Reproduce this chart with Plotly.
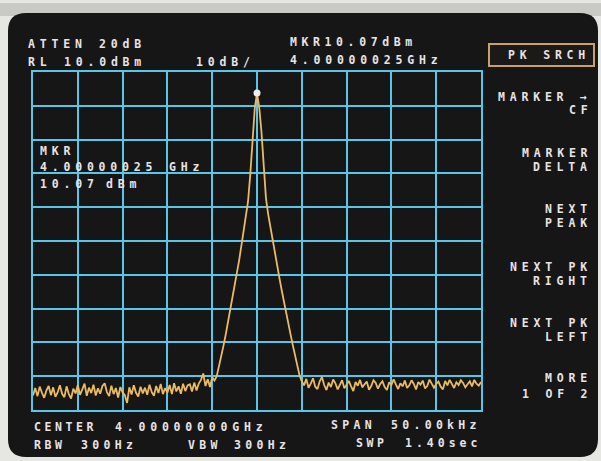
import numpy as np
import plotly.graph_objects as go

# Sweep: 4 GHz centre, 50 kHz span, 201 points (offsets in kHz)
center_ghz = 4.0
span_khz = 50.0

# Measured trace levels (dBm), left noise floor -> main lobe -> right noise floor
left_floor = [
    -79.4, -77.2, -79.6, -76.8, -78.6, -80.1, -77.9, -76.6, -79.3, -77.0,
    -79.8, -78.5, -76.4, -78.9, -79.9, -76.7, -79.0, -80.3, -77.4, -78.8,
    -76.3, -79.2, -77.6, -75.9, -79.5, -77.1, -78.7, -76.2, -79.4, -77.3,
    -78.9, -76.6, -75.8, -78.4, -79.6, -76.5, -79.0, -77.2, -80.0, -76.9,
    -78.5, -79.3, -81.6, -77.0, -79.1, -76.4, -78.6, -79.7, -76.8, -78.8,
    -77.1, -79.2, -76.2, -78.4, -79.5, -76.6, -78.7, -76.0, -79.0, -77.2,
    -78.6, -76.3, -79.0, -75.8, -78.2, -76.7, -78.9, -75.9, -78.1, -76.4,
    -76.1, -78.2, -75.6, -77.9, -75.9, -74.8, -72.9, -76.6, -74.6, -76.9,
    -74.0,
]
main_lobe = [
    -75.0, -73.8, -71.0, -68.2, -64.8, -61.5, -58.0, -54.6, -51.0, -47.3,
    -43.5, -39.5, -35.2, -31.0, -26.8, -22.0, -14.0, -3.0, 5.5,
    10.07,
    5.8, -1.5, -12.5, -21.0, -25.8, -29.8, -33.6, -37.4, -41.0, -44.6,
    -48.2, -51.8, -55.0, -58.2, -61.4, -64.6, -67.8, -70.8, -73.5,
]
right_floor = [
    -75.2,
    -76.4, -74.5, -77.1, -75.9, -74.3, -76.8, -77.5, -75.2, -73.9, -76.3,
    -77.8, -75.6, -76.9, -74.7, -75.8, -77.6, -76.2, -74.9, -77.3, -76.0,
    -75.1, -76.7, -78.1, -75.4, -76.5, -74.8, -77.0, -76.1, -75.3, -77.7,
    -76.6, -74.9, -75.7, -77.4, -76.0, -75.2, -76.9, -77.8, -75.5, -76.3,
    -74.6, -76.1, -77.5, -75.8, -76.7, -75.0, -77.2, -76.4, -74.9, -76.0,
    -77.6, -75.4, -76.2, -75.0, -77.3, -76.6, -74.7, -75.9, -77.1, -76.0,
    -75.3, -76.8, -77.6, -75.1, -76.4, -74.8, -76.0, -77.2, -75.5, -76.3,
    -74.9, -75.7, -77.0, -76.1, -75.2, -76.7, -74.8, -75.9, -76.5, -75.4,
]
level_dbm = left_floor + main_lobe + right_floor
freq_khz = np.linspace(-span_khz / 2, span_khz / 2, len(level_dbm))

marker_khz = 0.0
marker_dbm = 10.07

# Screen geometry (figure pixels)
W, H = 601, 461
L, R, T, B = 33, 481, 72, 410

SCREEN = "#161616"
GRID = "#58c6e8"
TRACE = "#ebba62"
TEXT = "#e8e3e5"
FRAME = "#c9a166"


def px_x(x):
    return (x - L) / (R - L)


def px_y(y):
    return (B - y) / (B - T)


def rounded_rect(x0, y0, x1, y1, r):
    pts = [
        ("M", [(x0 + r, y0)]),
        ("L", [(x1 - r, y0)]),
        ("Q", [(x1, y0), (x1, y0 + r)]),
        ("L", [(x1, y1 - r)]),
        ("Q", [(x1, y1), (x1 - r, y1)]),
        ("L", [(x0 + r, y1)]),
        ("Q", [(x0, y1), (x0, y1 - r)]),
        ("L", [(x0, y0 + r)]),
        ("Q", [(x0, y0), (x0 + r, y0)]),
    ]
    parts = []
    for cmd, ps in pts:
        parts.append(cmd + " " + " ".join(f"{px_x(a):.5f},{px_y(b):.5f}" for a, b in ps))
    return " ".join(parts) + " Z"


fig = go.Figure()
fig.add_trace(go.Scatter(
    x=freq_khz, y=level_dbm, mode="lines",
    line=dict(color=TRACE, width=1.8), hoverinfo="skip", showlegend=False,
))
fig.add_trace(go.Scatter(
    x=[marker_khz], y=[marker_dbm], mode="markers",
    marker=dict(color="#f3ecef", size=7), hoverinfo="skip", showlegend=False,
))

annotations = []


def label(text, x, y, anchor="left", spacing=4.8, size=11.5):
    annotations.append(dict(
        text=f'<span style="letter-spacing:{spacing}px">{text}</span>',
        x=px_x(x + (spacing if anchor == "right" else 0)), y=px_y(y),
        xref="paper", yref="paper", xanchor=anchor, yanchor="middle",
        showarrow=False, borderpad=0,
        font=dict(family="DejaVu Sans Mono", size=size, color=TEXT, weight=700),
    ))


# Header
label("ATTEN", 27, 44)
label("20dB", 98, 44)
label("RL", 27, 62)
label("10.0dBm", 63, 62)
label("10dB/", 195, 62)
label("MKR10.07dBm", 289, 42, spacing=4.6)
label("4.00000025GHz", 289, 60, spacing=4.8)

# Marker readout inside the graticule
label("MKR", 39, 151)
label("4.00000025", 39, 167)
label("GHz", 168, 167)
label("10.07", 39, 184)
label("dBm", 105, 184)

# Softkey menu
label("PK SRCH", 586, 55, anchor="right")
label("MARKER →", 588, 97, anchor="right")
label("CF", 588, 110, anchor="right")
label("MARKER", 588, 153, anchor="right")
label("DELTA", 588, 167, anchor="right")
label("NEXT", 588, 209, anchor="right")
label("PEAK", 588, 223, anchor="right")
label("NEXT PK", 588, 267, anchor="right")
label("RIGHT", 588, 281, anchor="right")
label("NEXT PK", 588, 323, anchor="right")
label("LEFT", 588, 337, anchor="right")
label("MORE", 588, 378, anchor="right")
label("1 OF 2", 588, 394, anchor="right")

# Footer
label("CENTER", 33, 427, spacing=3.6)
label("4.00000000GHz", 114, 427, spacing=4.8)
label("RBW", 33, 445, spacing=3.6)
label("300Hz", 80, 445, spacing=4.3)
label("VBW", 187, 445, spacing=4.3)
label("300Hz", 233, 445, spacing=4.3)
label("SPAN", 330, 425, spacing=4.3)
label("50.00kHz", 390, 425, spacing=4.3)
label("SWP", 355, 443, spacing=3.6)
label("1.40sec", 404, 443, spacing=4.0)

shapes = [
    dict(type="rect", xref="paper", yref="paper", layer="below",
         x0=px_x(0), x1=px_x(W), y0=px_y(3), y1=px_y(16),
         fillcolor="#c9c9c5", line=dict(width=0)),
    dict(type="path", xref="paper", yref="paper", layer="below",
         path=rounded_rect(8, 13, 598, 457, 18),
         fillcolor=SCREEN, line=dict(width=0)),
    dict(type="rect", xref="paper", yref="paper", layer="below",
         x0=px_x(489), x1=px_x(594), y0=px_y(44), y1=px_y(66),
         fillcolor="#1b1a19", line=dict(color=FRAME, width=2)),
]

axis_common = dict(
    showgrid=True, gridcolor=GRID, gridwidth=2,
    showline=True, linecolor=GRID, linewidth=2, mirror=True,
    zeroline=False, showticklabels=False, ticks="", fixedrange=True,
)

fig.update_layout(
    width=W, height=H,
    margin=dict(l=L, r=W - R, t=T, b=H - B, pad=0),
    paper_bgcolor="#e6e6e3",
    plot_bgcolor=SCREEN,
    xaxis=dict(range=[-span_khz / 2, span_khz / 2], tick0=-span_khz / 2, dtick=span_khz / 10, **axis_common),
    yaxis=dict(range=[-83.7, 16.3], tick0=-83.7, dtick=10, **axis_common),
    shapes=shapes,
    annotations=annotations,
    hovermode=False,
)

fig.write_html("out.html", config={"displayModeBar": False})
